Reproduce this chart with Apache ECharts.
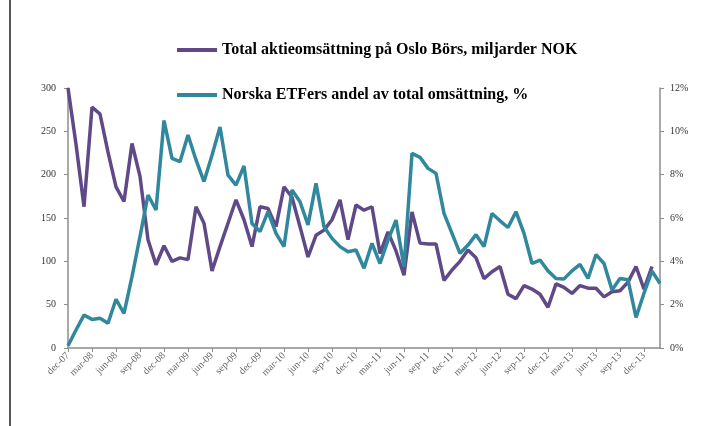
<!DOCTYPE html>
<html lang="sv" style="height: 100%">

<head>
  <meta charset="utf-8" />
</head>

<body style="height: 100%; margin: 0; background: #fff">
  <div id="container" style="width: 713px; height: 426px"></div>

  <script type="text/javascript" src="https://cdn.jsdelivr.net/npm/echarts@6/dist/echarts.min.js"></script>

  <script type="text/javascript">
    // months dec-07 .. feb-14
    var months = [
      "dec-07",
      "jan-08", "feb-08", "mar-08", "apr-08", "maj-08", "jun-08", "jul-08", "aug-08", "sep-08", "okt-08", "nov-08", "dec-08",
      "jan-09", "feb-09", "mar-09", "apr-09", "maj-09", "jun-09", "jul-09", "aug-09", "sep-09", "okt-09", "nov-09", "dec-09",
      "jan-10", "feb-10", "mar-10", "apr-10", "maj-10", "jun-10", "jul-10", "aug-10", "sep-10", "okt-10", "nov-10", "dec-10",
      "jan-11", "feb-11", "mar-11", "apr-11", "maj-11", "jun-11", "jul-11", "aug-11", "sep-11", "okt-11", "nov-11", "dec-11",
      "jan-12", "feb-12", "mar-12", "apr-12", "maj-12", "jun-12", "jul-12", "aug-12", "sep-12", "okt-12", "nov-12", "dec-12",
      "jan-13", "feb-13", "mar-13", "apr-13", "maj-13", "jun-13", "jul-13", "aug-13", "sep-13", "okt-13", "nov-13", "dec-13",
      "jan-14", "feb-14"
    ];

    // Total aktieomsättning, miljarder NOK (left axis)
    var turnover = [
      300,
      235, 163, 278, 270, 226, 186, 169, 236, 198, 125, 96, 118,
      100, 104, 102, 163, 144, 89, 117, 144, 171, 148, 117, 163,
      161, 140, 186, 174, 140, 105, 130, 136, 148, 171, 125, 165,
      159, 163, 109, 134, 112, 84, 157, 121, 120, 120, 78, 90,
      100, 113, 104, 80, 88, 94, 62, 57, 72, 68, 62, 47,
      74, 70, 63, 72, 69, 69, 59, 65, 66, 76, 94, 68,
      94, null
    ];

    // Norska ETFers andel, % (right axis)
    var etfShare = [
      0.1,
      0.83, 1.52, 1.32, 1.37, 1.14, 2.25, 1.6, 3.29, 5.14, 7.06, 6.37, 10.5,
      8.75, 8.6, 9.83, 8.68, 7.68, 8.9, 10.2, 7.98, 7.52, 8.4, 5.75, 5.37,
      6.29, 5.29, 4.68, 7.29, 6.75, 5.68, 7.6, 5.6, 5.06, 4.68, 4.44, 4.52,
      3.68, 4.83, 3.9, 4.98, 5.9, 3.75, 8.98, 8.8, 8.29, 8.06, 6.21, 5.29,
      4.37, 4.75, 5.23, 4.68, 6.21, 5.87, 5.56, 6.29, 5.29, 3.9, 4.06, 3.56,
      3.21, 3.19, 3.56, 3.86, 3.21, 4.31, 3.9, 2.68, 3.21, 3.15, 1.41, 2.53,
      3.55, 2.98
    ];

    var seriesNames = [
      "Total aktieomsättning på Oslo Börs, miljarder NOK",
      "Norska ETFers andel av total omsättning, %"
    ];

    var dom = document.getElementById("container");
    var myChart = echarts.init(dom, null, { renderer: "canvas" });

    var axisGrey = "#8c8c8c";
    var serif = "Liberation Serif";

    var option = {
      animation: false,
      backgroundColor: "#fff",
      grid: { left: 68, right: 53, top: 88, bottom: 78 },
      legend: {
        orient: "vertical",
        left: 172,
        top: 37,
        itemGap: 29,
        itemWidth: 40,
        itemHeight: 4,
        icon: "rect",
        textStyle: {
          fontFamily: serif,
          fontWeight: "bold",
          fontSize: 16,
          color: "#000",
          padding: [0, 0, 6, 0]
        },
        data: seriesNames
      },
      graphic: [
        {
          type: "line",
          shape: { x1: 10, y1: 0, x2: 10, y2: 426 },
          style: { stroke: "#555", lineWidth: 2 }
        }
      ],
      xAxis: {
        type: "category",
        data: months,
        boundaryGap: false,
        axisLine: { lineStyle: { color: axisGrey, width: 1.5 } },
        axisTick: { interval: 2, length: 4, lineStyle: { color: axisGrey } },
        axisLabel: {
          interval: 2,
          rotate: 45,
          fontFamily: serif,
          fontSize: 10,
          color: "#666",
          margin: 6
        },
        splitLine: { show: false }
      },
      yAxis: [
        {
          type: "value",
          min: 0,
          max: 300,
          interval: 50,
          axisLine: { show: true, lineStyle: { color: axisGrey, width: 1.5 } },
          axisTick: { show: true, length: 4, lineStyle: { color: axisGrey } },
          axisLabel: { fontFamily: serif, fontSize: 10, color: "#333", margin: 12 },
          splitLine: { show: false }
        },
        {
          type: "value",
          min: 0,
          max: 12,
          interval: 2,
          position: "right",
          axisLine: { show: true, lineStyle: { color: axisGrey, width: 1.5 } },
          axisTick: { show: true, length: 4, lineStyle: { color: axisGrey } },
          axisLabel: {
            fontFamily: serif,
            fontSize: 10,
            color: "#333",
            margin: 10,
            formatter: "{value}%"
          },
          splitLine: { show: false }
        }
      ],
      series: [
        {
          name: seriesNames[0],
          type: "line",
          yAxisIndex: 0,
          data: turnover,
          symbol: "none",
          color: "#5f4a87",
          lineStyle: { width: 3.5, color: "#5f4a87" }
        },
        {
          name: seriesNames[1],
          type: "line",
          yAxisIndex: 1,
          data: etfShare,
          symbol: "none",
          color: "#31879c",
          lineStyle: { width: 3.5, color: "#31879c" }
        }
      ]
    };

    myChart.setOption(option);
    window.addEventListener("resize", myChart.resize);
  </script>
</body>

</html>
